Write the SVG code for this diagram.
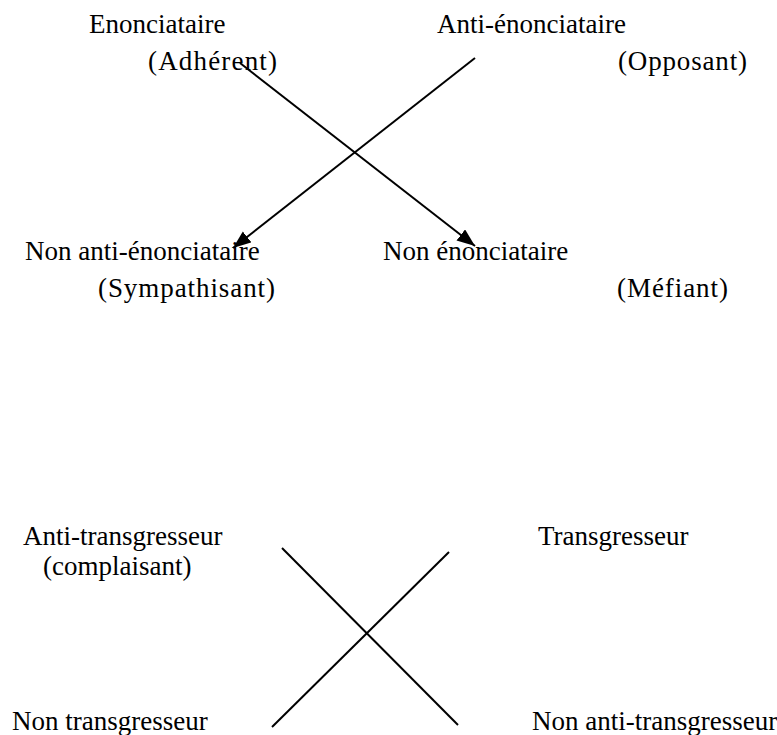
<svg xmlns="http://www.w3.org/2000/svg" width="777" height="735" viewBox="0 0 777 735">
<defs>
<style>
text{font-family:"Liberation Serif","Times New Roman",serif;font-size:27px;fill:#000}
.ln{stroke:#000;stroke-width:2;fill:none}
</style>
<marker id="ah" markerUnits="userSpaceOnUse" markerWidth="20" markerHeight="16" refX="18" refY="7" orient="auto">
<path d="M0,0 L18,7 L0,14 z" fill="#000"/>
</marker>
</defs>
<rect width="777" height="735" fill="#fff"/>
<g id="enonciataire"><text x="89" y="33">Enonciataire</text><text x="148" y="70" textLength="129" lengthAdjust="spacing">(Adhérent)</text></g>
<g id="anti-enonciataire"><text x="437" y="33">Anti-énonciataire</text><text x="618" y="70" textLength="129" lengthAdjust="spacing">(Opposant)</text></g>
<g id="non-anti-enonciataire"><text x="25" y="260">Non anti-énonciataire</text><text x="98" y="297" textLength="177" lengthAdjust="spacing">(Sympathisant)</text></g>
<g id="non-enonciataire"><text x="383" y="260">Non énonciataire</text><text x="617" y="297" textLength="111" lengthAdjust="spacing">(Méfiant)</text></g>
<g id="anti-transgresseur"><text x="23" y="545">Anti-transgresseur</text><text x="43" y="575">(complaisant)</text></g>
<g id="transgresseur"><text x="538" y="545">Transgresseur</text></g>
<g id="non-transgresseur"><text x="12" y="730">Non transgresseur</text></g>
<g id="non-anti-transgresseur"><text x="532" y="730">Non anti-transgresseur</text></g>
<g id="connectors">
<line class="ln" x1="240" y1="63" x2="475" y2="246" marker-end="url(#ah)"/>
<line class="ln" x1="475" y1="58" x2="233" y2="248" marker-end="url(#ah)"/>
<line class="ln" x1="282" y1="548" x2="458" y2="725"/>
<line class="ln" x1="449" y1="552" x2="272" y2="727"/>
</g>
</svg>
